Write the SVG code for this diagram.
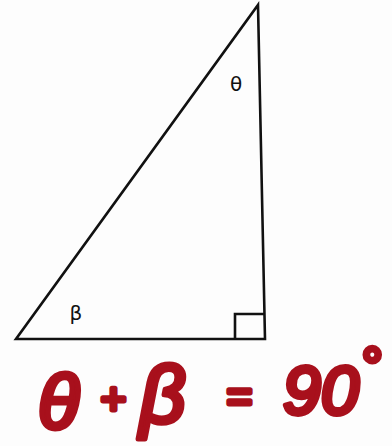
<svg xmlns="http://www.w3.org/2000/svg" width="392" height="446" viewBox="0 0 392 446">
<style>
.ln{fill:none;stroke:#111;stroke-width:2.6;stroke-linejoin:miter}
.lbl{font-family:"DejaVu Sans","Liberation Sans",sans-serif;font-size:20px;fill:#111}
.red{font-family:"Liberation Sans",sans-serif;font-style:italic;fill:#a8101c;stroke:#a8101c;stroke-width:5;stroke-linejoin:round}
</style>
<rect width="392" height="446" fill="#fdfdfd"/>
<g id="triangle">
<path class="ln" d="M258,5 L265,339 L16,339 Z"/>
<path class="ln" d="M235,339 L235,314 L264,314"/>
</g>
<g id="labels">
<text class="lbl" x="236" y="91" text-anchor="middle">θ</text>
<text class="lbl" x="76" y="320" text-anchor="middle">β</text>
</g>
<g id="equation">
<text class="red" font-size="76" x="38" y="428">θ</text>
<text class="red" font-size="44" x="100" y="414">+</text>
<text class="red" font-size="80" x="140" y="422">β</text>
<text class="red" font-size="44" x="226" y="412">=</text>
<text class="red" font-size="68" x="283" y="414">9</text>
<text class="red" font-size="68" x="321" y="414">0</text>
<text class="red" font-size="52" x="360" y="384" stroke-width="3">°</text>
</g>
</svg>
